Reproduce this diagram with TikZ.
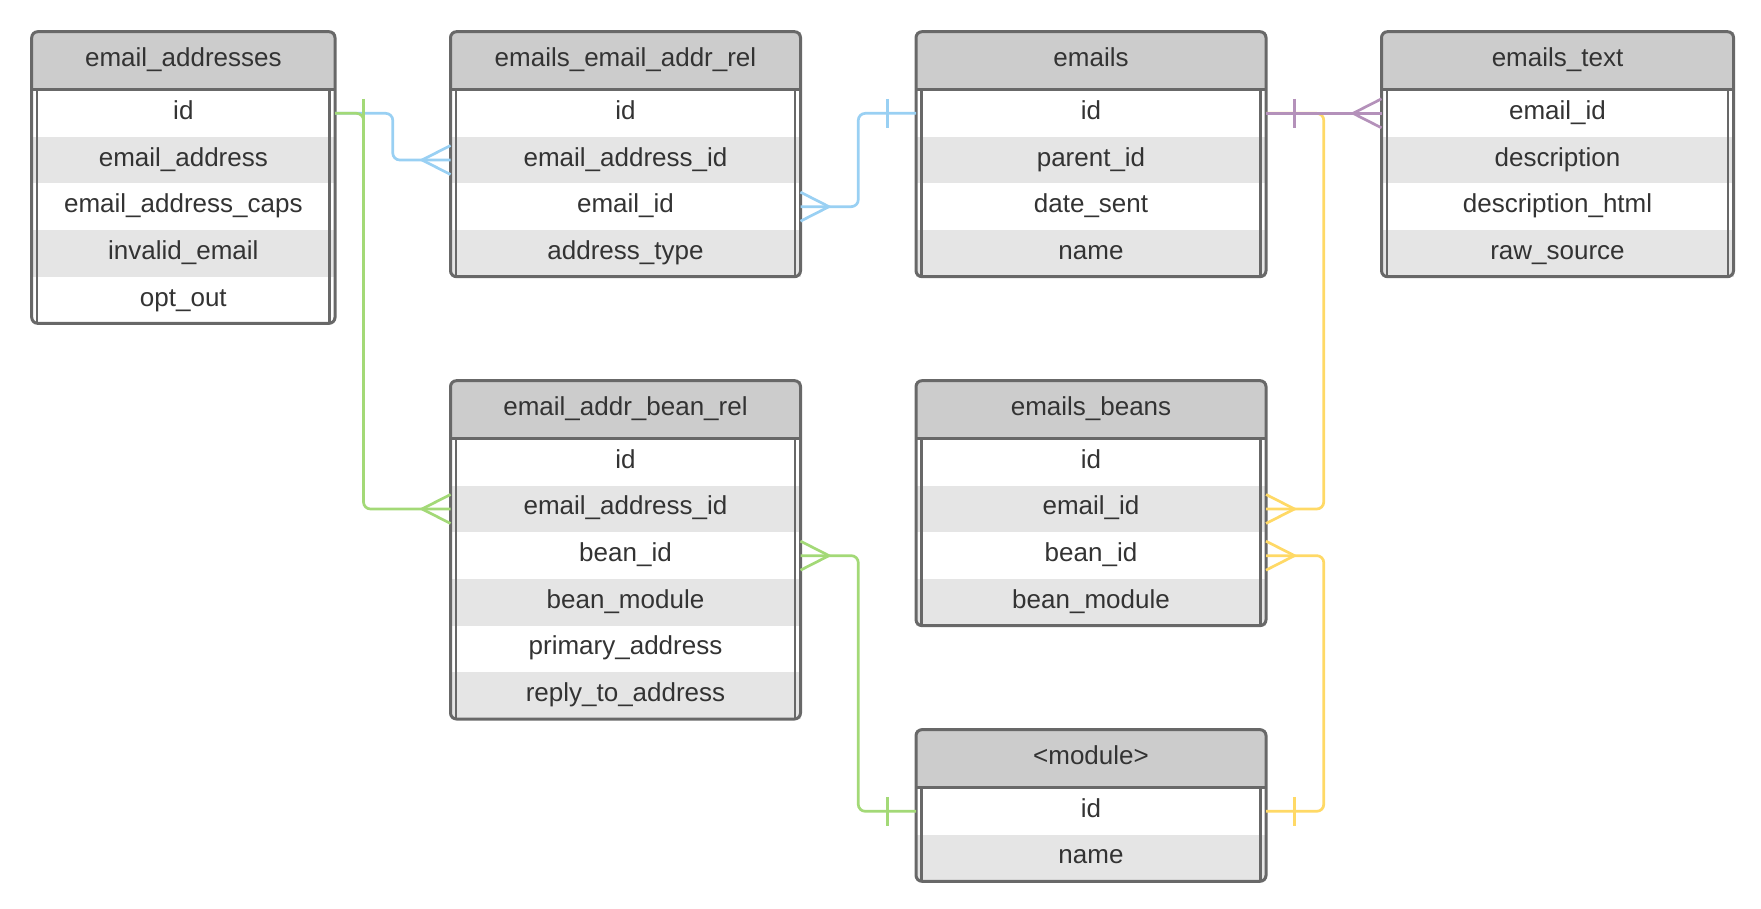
\documentclass[tikz,border=0pt]{standalone}
\usepackage{fontspec}
\setmainfont{Liberation Sans}
\usepackage{tikz}
\usetikzlibrary{positioning, calc}
\definecolor{framegrey}{RGB}{104,104,104}
\definecolor{headgrey}{RGB}{204,204,204}
\definecolor{stripegrey}{RGB}{229,229,229}
\definecolor{textgrey}{RGB}{51,51,51}
\definecolor{linkblue}{RGB}{153,208,243}
\definecolor{linkgreen}{RGB}{163,217,119}
\definecolor{linkpurple}{RGB}{180,145,186}
\definecolor{linkyellow}{RGB}{255,217,102}

\begin{document}
\begin{tikzpicture}[x=1pt, y=-1pt,
    every node/.style={font=\fontsize{26}{30}\selectfont, text=textgrey, inner sep=0pt, outer sep=0pt, text height=19pt, text depth=7pt},
    head/.style={rectangle, fill=headgrey, minimum height=58.3pt},
    field/.style={rectangle, minimum height=46.67pt},
    frame/.style={draw=framegrey, line width=3pt, rounded corners=6pt},
    rim/.style={draw=framegrey, line width=2.2pt},
    link/.style={line width=2.7pt, rounded corners=7pt},
    sign/.style={line width=2.7pt}]
    \useasboundingbox (0,0) rectangle (1761,909);

    % Top row: email_addresses, emails_email_addr_rel, emails, emails_text
    \node [head, minimum width=303.3pt] (addr-0) at (183.35,60.85) {email\_addresses};
    \foreach \f [count=\i, evaluate=\i as \j using {int(\i-1)}, evaluate=\i as \k using {int(100*mod(\i,2))}] in {id, email\_address, email\_address\_caps, invalid\_email, opt\_out}
        \node [field, fill=white!\k!stripegrey, minimum width=303.3pt, below=0pt of addr-\j] (addr-\i) {\f};

    \node [head, minimum width=350pt, right=115.5pt of addr-0] (addrrel-0) {emails\_email\_addr\_rel};
    \foreach \f [count=\i, evaluate=\i as \j using {int(\i-1)}, evaluate=\i as \k using {int(100*mod(\i,2))}] in {id, email\_address\_id, email\_id, address\_type}
        \node [field, fill=white!\k!stripegrey, minimum width=350pt, below=0pt of addrrel-\j] (addrrel-\i) {\f};

    \node [head, minimum width=350pt, right=115.5pt of addrrel-0] (mails-0) {emails};
    \foreach \f [count=\i, evaluate=\i as \j using {int(\i-1)}, evaluate=\i as \k using {int(100*mod(\i,2))}] in {id, parent\_id, date\_sent, name}
        \node [field, fill=white!\k!stripegrey, minimum width=350pt, below=0pt of mails-\j] (mails-\i) {\f};

    \node [head, minimum width=352pt, right=115.5pt of mails-0] (mailtext-0) {emails\_text};
    \foreach \f [count=\i, evaluate=\i as \j using {int(\i-1)}, evaluate=\i as \k using {int(100*mod(\i,2))}] in {email\_id, description, description\_html, raw\_source}
        \node [field, fill=white!\k!stripegrey, minimum width=352pt, below=0pt of mailtext-\j] (mailtext-\i) {\f};

    % Lower tables: email_addr_bean_rel, emails_beans, <module>
    \node [head, minimum width=350pt, below=104pt of addrrel-4] (beanrel-0) {email\_addr\_bean\_rel};
    \foreach \f [count=\i, evaluate=\i as \j using {int(\i-1)}, evaluate=\i as \k using {int(100*mod(\i,2))}] in {id, email\_address\_id, bean\_id, bean\_module, primary\_address, reply\_to\_address}
        \node [field, fill=white!\k!stripegrey, minimum width=350pt, below=0pt of beanrel-\j] (beanrel-\i) {\f};

    \node [head, minimum width=350pt, below=104pt of mails-4] (mailbeans-0) {emails\_beans};
    \foreach \f [count=\i, evaluate=\i as \j using {int(\i-1)}, evaluate=\i as \k using {int(100*mod(\i,2))}] in {id, email\_id, bean\_id, bean\_module}
        \node [field, fill=white!\k!stripegrey, minimum width=350pt, below=0pt of mailbeans-\j] (mailbeans-\i) {\f};

    \node [head, minimum width=350pt, below=104pt of mailbeans-4] (module-0) {<module>};
    \foreach \f [count=\i, evaluate=\i as \j using {int(\i-1)}, evaluate=\i as \k using {int(100*mod(\i,2))}] in {id, name}
        \node [field, fill=white!\k!stripegrey, minimum width=350pt, below=0pt of module-\j] (module-\i) {\f};

    % Table outlines
    \foreach \t/\n in {addr/5, addrrel/4, mails/4, mailtext/4, beanrel/6, mailbeans/4, module/2} {
        \draw [frame] (\t-0.north west) rectangle (\t-\n.south east);
        \draw [frame] (\t-0.south west) -- (\t-0.south east);
        \draw [rim] ($(\t-1.north west)+(5.5,0)$) -- ($(\t-\n.south west)+(5.5,0)$);
        \draw [rim] ($(\t-1.north east)+(-5.5,0)$) -- ($(\t-\n.south east)+(-5.5,0)$);
    }

    % email_addresses.id -> emails_email_addr_rel.email_address_id
    \draw [link, linkblue] (addr-1.east) -- ++(57.75,0) |- (addrrel-2.west);
    \draw [sign, linkblue] ($(addr-1.east)+(28.5,-14.5)$) -- ++(0,29);
    \draw [sign, linkblue] ($(addrrel-2.west)+(0,-14.5)$) -- ++(-28.5,14.5) -- ++(28.5,14.5);

    % emails.id -> emails_email_addr_rel.email_id
    \draw [link, linkblue] (addrrel-3.east) -- ++(57.75,0) |- (mails-1.west);
    \draw [sign, linkblue] ($(addrrel-3.east)+(0,-14.5)$) -- ++(28.5,14.5) -- ++(-28.5,14.5);
    \draw [sign, linkblue] ($(mails-1.west)+(-28.5,-14.5)$) -- ++(0,29);

    % email_addresses.id -> email_addr_bean_rel.email_address_id
    \draw [link, linkgreen] (addr-1.east) -- ++(28.5,0) |- (beanrel-2.west);
    \draw [sign, linkgreen] ($(addr-1.east)+(28.5,-14.5)$) -- ++(0,29);
    \draw [sign, linkgreen] ($(beanrel-2.west)+(0,-14.5)$) -- ++(-28.5,14.5) -- ++(28.5,14.5);

    % <module>.id -> email_addr_bean_rel.bean_id
    \draw [link, linkgreen] (beanrel-3.east) -- ++(57.75,0) |- (module-1.west);
    \draw [sign, linkgreen] ($(beanrel-3.east)+(0,-14.5)$) -- ++(28.5,14.5) -- ++(-28.5,14.5);
    \draw [sign, linkgreen] ($(module-1.west)+(-28.5,-14.5)$) -- ++(0,29);

    % emails.id -> emails_beans.email_id
    \draw [link, linkyellow] (mails-1.east) -- ++(57.75,0) |- (mailbeans-2.east);
    \draw [sign, linkyellow] ($(mails-1.east)+(28.5,-14.5)$) -- ++(0,29);
    \draw [sign, linkyellow] ($(mailbeans-2.east)+(0,-14.5)$) -- ++(28.5,14.5) -- ++(-28.5,14.5);

    % <module>.id -> emails_beans.bean_id
    \draw [link, linkyellow] (mailbeans-3.east) -- ++(57.75,0) |- (module-1.east);
    \draw [sign, linkyellow] ($(mailbeans-3.east)+(0,-14.5)$) -- ++(28.5,14.5) -- ++(-28.5,14.5);
    \draw [sign, linkyellow] ($(module-1.east)+(28.5,-14.5)$) -- ++(0,29);

    % emails.id -> emails_text.email_id
    \draw [link, linkpurple] (mails-1.east) -- (mailtext-1.west);
    \draw [sign, linkpurple] ($(mails-1.east)+(28.5,-14.5)$) -- ++(0,29);
    \draw [sign, linkpurple] ($(mailtext-1.west)+(0,-14.5)$) -- ++(-28.5,14.5) -- ++(28.5,14.5);
\end{tikzpicture}
\end{document}
